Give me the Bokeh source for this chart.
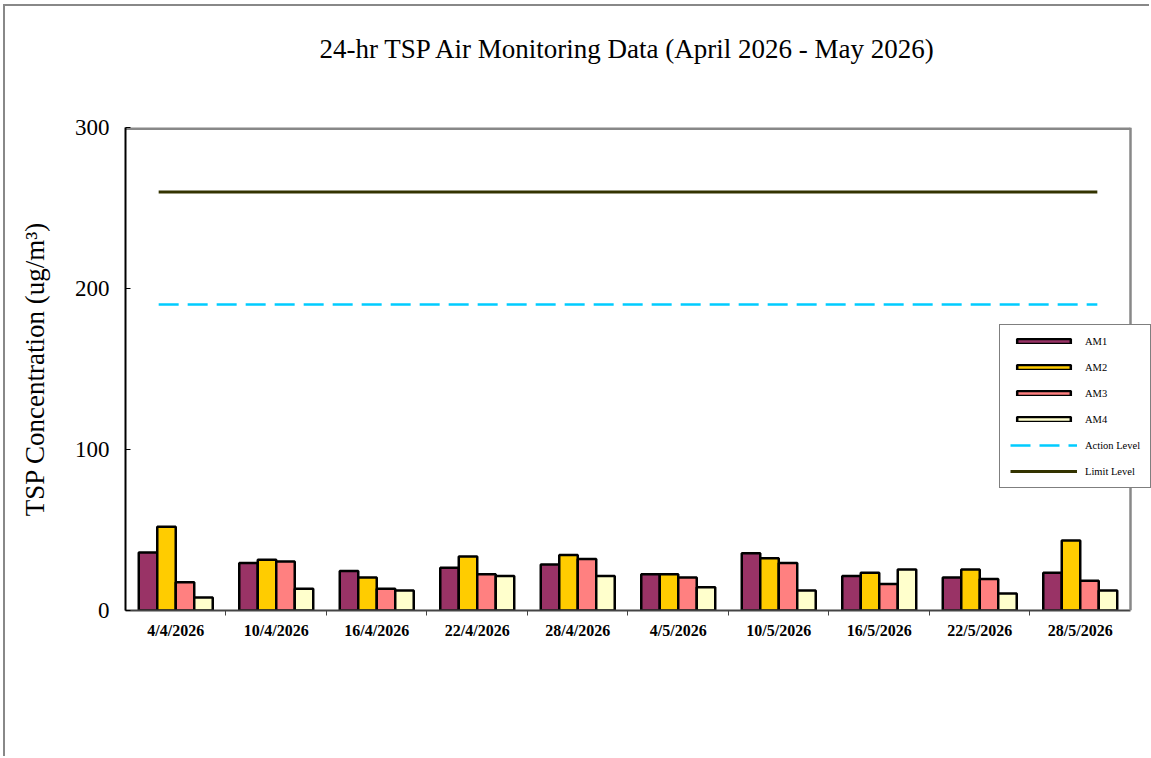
from bokeh.plotting import figure
from bokeh.models import ColumnDataSource, FixedTicker, Legend, LegendItem, Span, Title
from bokeh.embed import file_html
from bokeh.resources import INLINE

dates = ["4/4/2026", "10/4/2026", "16/4/2026", "22/4/2026", "28/4/2026",
         "4/5/2026", "10/5/2026", "16/5/2026", "22/5/2026", "28/5/2026"]
am1 = [36, 29.5, 24.5, 26.5, 28.5, 22.5, 35.5, 21.5, 20.5, 23.5]
am2 = [52, 31.5, 20.5, 33.5, 34.5, 22.5, 32.5, 23.5, 25.5, 43.5]
am3 = [17.5, 30.5, 13.5, 22.5, 32, 20.5, 29.5, 16.5, 19.5, 18.5]
am4 = [8, 13.5, 12.5, 21.5, 21.5, 14.5, 12.5, 25.5, 10.5, 12.5]
action_level = 190
limit_level = 260
y_max = 300
series_names = ["AM1", "AM2", "AM3", "AM4"]
series_colors = ["#993366", "#FFCC00", "#FF8080", "#FFFFCC"]
title_text = "24-hr TSP Air Monitoring Data (April 2026 - May 2026)"

FONT = "Liberation Serif"
n = len(dates)
centers = [i + 0.5 for i in range(n)]

# frame extends past the plot box so the legend can overhang the right edge
p = figure(width=1146, height=752, output_backend="svg", toolbar_location=None,
           x_range=(0, n + 0.209), y_range=(0, y_max),
           min_border_left=120, min_border_right=0, min_border_top=0,
           min_border_bottom=148)
p.title = None
p.styles = {"border-left": "2px solid #888888", "border-top": "2px solid #888888",
            "margin-left": "3px", "margin-top": "4px"}

# spacer between frame and title, then the title itself
spacer = Title(text=" ", text_font=FONT, text_font_size="10px", standoff=26)
main_title = Title(text=title_text, align="left", offset=194, text_font=FONT,
                   text_font_size="27px", text_font_style="normal",
                   text_color="black", standoff=50)
p.add_layout(spacer, "above")
p.add_layout(main_title, "above")

p.grid.visible = False
p.outline_line_color = None
p.background_fill_color = "white"
p.border_fill_color = "white"

# plot-box top and right edges
p.line([0, n], [y_max, y_max], line_color="#888888", line_width=5)
p.add_layout(Span(location=n, dimension="height", line_color="#888888",
                  line_width=2.5))

w = 0.184
renderers = []
for k, (vals, color) in enumerate(zip([am1, am2, am3, am4], series_colors)):
    xs = [c + (k - 1.5) * w for c in centers]
    src = ColumnDataSource(dict(x=xs, top=vals))
    r = p.vbar(x="x", top="top", width=w, source=src, fill_color=color,
               line_color="black", line_width=2.5)
    renderers.append(r)

x0 = 0.33
x1 = n - 0.33
ra = p.line([x0, x1], [action_level, action_level], line_color="#00CCFF",
            line_width=2.5, line_dash="20 9")
rl = p.line([x0, x1], [limit_level, limit_level], line_color="#333300",
            line_width=3)

# y axis
p.yaxis.ticker = FixedTicker(ticks=[0, 100, 200, 300])
p.yaxis.major_label_text_font = FONT
p.yaxis.major_label_text_font_size = "23px"
p.yaxis.major_label_text_color = "black"
p.yaxis.major_tick_in = 5
p.yaxis.major_tick_out = 0
p.yaxis.minor_tick_line_color = None
p.yaxis.axis_line_color = "black"
p.yaxis.axis_line_width = 2
p.yaxis.major_label_standoff = 16
p.yaxis.axis_label = "TSP Concentration (ug/m\u00b3)"
p.yaxis.axis_label_text_font = FONT
p.yaxis.axis_label_text_font_size = "27px"
p.yaxis.axis_label_text_font_style = "normal"
p.yaxis.axis_label_text_color = "black"
p.yaxis.axis_label_standoff = 22

# x axis
p.xaxis.bounds = (0, n)
p.xaxis.ticker = FixedTicker(ticks=centers, minor_ticks=list(range(1, n)))
p.xaxis.major_label_overrides = {c: d for c, d in zip(centers, dates)}
p.xaxis.major_label_text_font = FONT
p.xaxis.major_label_text_font_size = "16px"
p.xaxis.major_label_text_font_style = "bold"
p.xaxis.major_label_text_color = "black"
p.xaxis.major_tick_line_color = None
p.xaxis.minor_tick_in = 0
p.xaxis.minor_tick_out = 5
p.xaxis.minor_tick_line_color = "#444444"
p.xaxis.axis_line_color = "#444444"
p.xaxis.axis_line_width = 2
p.xaxis.major_label_standoff = 5

items = [LegendItem(label=nm, renderers=[r]) for nm, r in zip(series_names, renderers)]
items.append(LegendItem(label="Action Level", renderers=[ra]))
items.append(LegendItem(label="Limit Level", renderers=[rl]))
legend = Legend(items=items, location=(874, 122), orientation="vertical",
                label_text_font=FONT, label_text_font_size="10.5px",
                label_text_color="black",
                glyph_width=67, glyph_height=6, label_height=12,
                spacing=14, padding=10, margin=0, label_standoff=8,
                border_line_color="black", border_line_width=1,
                background_fill_color="white", background_fill_alpha=1)
p.add_layout(legend, "center")

open("out.html", "w").write(file_html(p, INLINE))
